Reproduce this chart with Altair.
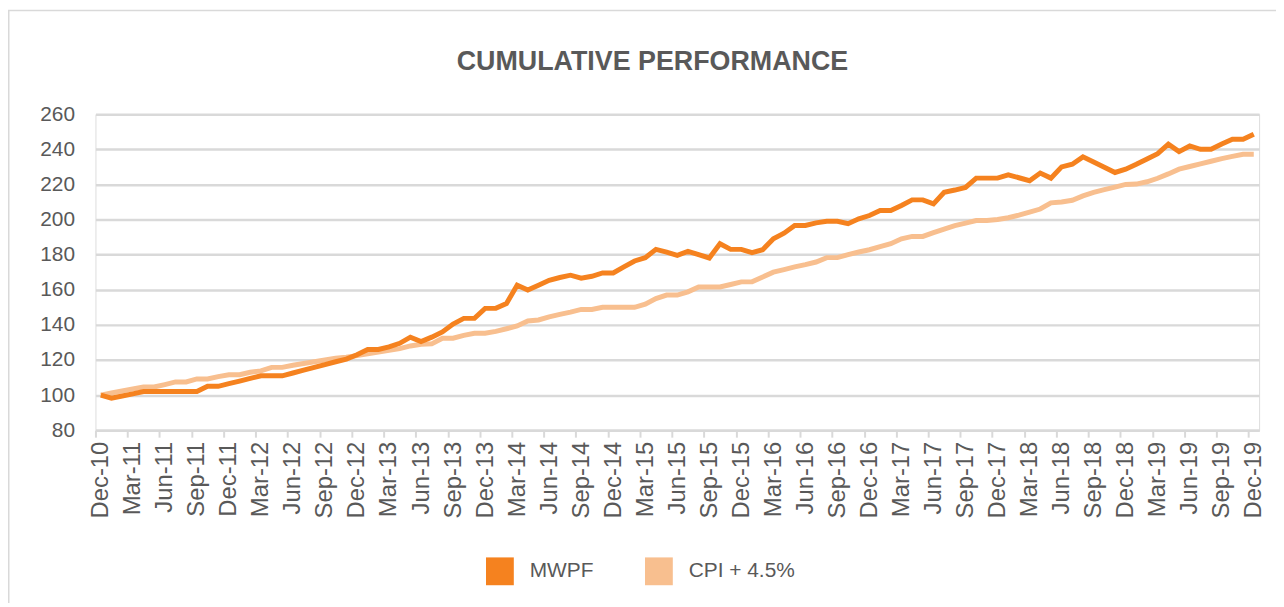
import altair as alt
import pandas as pd

# ---- data (monthly index, 0 = Dec-10 ... 108 = Dec-19) ----
months = list(range(109))

mwpf = [100, 98.3, 99.5, 100.7, 102, 102, 102, 102, 102, 102, 105, 105, 106.5, 108, 109.5, 111, 111, 111,
        112.6, 114.2, 115.8, 117.4, 119, 120.5, 123, 126, 126, 127.5, 129.5, 133, 130.5, 133, 136, 140.5, 143.7, 143.7,
        149.4, 149.4, 152.2, 162.6, 159.8, 162.6, 165.4, 167, 168.3, 166.6, 167.7, 169.6, 169.6, 173, 176.4, 178.3, 183, 181.5,
        179.6, 181.9, 180, 178.1, 186.2, 183, 183, 181.1, 182.8, 189.1, 192.2, 196.6, 196.6, 198.1, 199, 199, 197.6, 200.4,
        202.3, 205.1, 205.1, 208, 211.2, 211.2, 208.9, 215.5, 216.8, 218.3, 223.6, 223.6, 223.6, 225.5, 223.8, 222.1, 226.5, 223.6,
        230, 231.5, 235.7, 232.8, 229.8, 226.8, 228.7, 231.5, 234.5, 237.5, 242.9, 238.7, 241.9, 240, 240, 243, 245.7, 245.7, 248.6]

cpi = [100, 101.2, 102.4, 103.5, 104.6, 104.6, 106, 107.5, 107.5, 109.2, 109.2, 110.5, 111.6, 111.6, 113, 113.8, 115.8, 115.8,
       117, 118, 119, 120, 121, 121.6, 122.5, 123.5, 124.5, 125.5, 126.5, 128, 129, 129.2, 132.4, 132.4, 134, 135.2,
       135.2, 136.3, 137.8, 139.4, 142.2, 142.8, 144.6, 146, 147.3, 148.8, 148.8, 150, 150, 150, 150, 151.8, 155, 157,
       157, 158.8, 161.6, 161.6, 161.6, 163, 164.5, 164.5, 167.3, 170, 171.5, 173, 174.3, 175.8, 178.3, 178.3, 180, 181.5,
       182.8, 184.6, 186.2, 189, 190.4, 190.4, 192.5, 194.5, 196.5, 198, 199.4, 199.4, 200, 201, 202.5, 204.2, 206, 209.5,
       210, 211, 213.5, 215.5, 217, 218.5, 220, 220.2, 221.5, 223.5, 226, 228.7, 230.2, 231.7, 233.2, 234.7, 236, 237.2, 237.2]

tick_labels = ["Dec-10", "Mar-11", "Jun-11", "Sep-11", "Dec-11", "Mar-12", "Jun-12", "Sep-12", "Dec-12",
               "Mar-13", "Jun-13", "Sep-13", "Dec-13", "Mar-14", "Jun-14", "Sep-14", "Dec-14",
               "Mar-15", "Jun-15", "Sep-15", "Dec-15", "Mar-16", "Jun-16", "Sep-16", "Dec-16",
               "Mar-17", "Jun-17", "Sep-17", "Dec-17", "Mar-18", "Jun-18", "Sep-18", "Dec-18",
               "Mar-19", "Jun-19", "Sep-19", "Dec-19"]
tick_positions = list(range(0, 109, 3))

series_names = ["MWPF", "CPI + 4.5%"]
series_colors = ["#F5821F", "#F8BF8F"]
y_ticks = [80, 100, 120, 140, 160, 180, 200, 220, 240, 260]

# ---- layout / style ----
W, H = 1171, 318
PAD = {"left": 88, "top": 105, "right": 17, "bottom": 172}
HALF = W / len(months) / 2
FONT = "Liberation Sans"
TXT = "#595959"
GRID = "#D9D9D9"

df = pd.DataFrame({
    "month": months + months,
    "value": cpi + mwpf,
    "series": [series_names[1]] * len(cpi) + [series_names[0]] * len(mwpf),
})

label_js = "[" + ",".join("'%s'" % s for s in tick_labels) + "][round(datum.value / 3)]"

lines = alt.Chart(df).mark_line(strokeWidth=5).encode(
    x=alt.X("month:Q",
            scale=alt.Scale(domain=[-0.5, len(months) - 0.5], nice=False, zero=False),
            axis=alt.Axis(values=tick_positions, labelExpr=label_js, title=None, grid=False,
                          labelAngle=270, labelAlign="right", labelBaseline="middle",
                          labelFont=FONT, labelFontSize=24, labelColor=TXT, labelPadding=4,
                          labelOverlap=False, labelFlush=False,
                          tickOffset=-HALF, labelOffset=HALF,
                          tickSize=7, tickColor=GRID, tickWidth=2,
                          domainColor=GRID, domainWidth=2.5)),
    y=alt.Y("value:Q",
            scale=alt.Scale(domain=[80, 260], nice=False, zero=False),
            axis=alt.Axis(values=y_ticks, title=None, domain=False, ticks=False, tickSize=0,
                          labelFont=FONT, labelFontSize=21, labelColor=TXT, labelPadding=21,
                          gridColor=GRID, gridWidth=2.5)),
    color=alt.Color("series:N",
                    scale=alt.Scale(domain=series_names, range=series_colors),
                    legend=alt.Legend(title=None, orient="none", legendX=393, legendY=446,
                                      direction="horizontal", symbolType="square",
                                      symbolSize=196, symbolStrokeWidth=14, symbolOpacity=1,
                                      labelFont=FONT, labelFontSize=21, labelColor=TXT,
                                      labelOffset=16, columnPadding=30, padding=0)),
)

# thin outer frame of the whole chart (only its top and left edges fall inside the page)
frame = alt.Chart(pd.DataFrame({"f": [0]})).mark_rect(
    fillOpacity=0, stroke=GRID, strokeWidth=1.5
).encode(
    x=alt.value(-PAD["left"] + 0.75), x2=alt.value(W + PAD["right"] + 40),
    y=alt.value(-PAD["top"] + 0.75), y2=alt.value(H + PAD["bottom"] + 40),
)

chart = alt.layer(frame, lines).properties(
    width=W, height=H,
    title=alt.TitleParams("CUMULATIVE PERFORMANCE", font=FONT, fontSize=27, fontWeight="bold",
                          color=TXT, anchor="middle", frame="group", dx=-25, offset=-88,
                          baseline="alphabetic"),
    autosize=alt.AutoSizeParams(type="none"),
    padding=PAD,
).configure_view(stroke=None).configure(background="white")

chart.save("out.html", embed_options={"renderer": "svg", "actions": False})
